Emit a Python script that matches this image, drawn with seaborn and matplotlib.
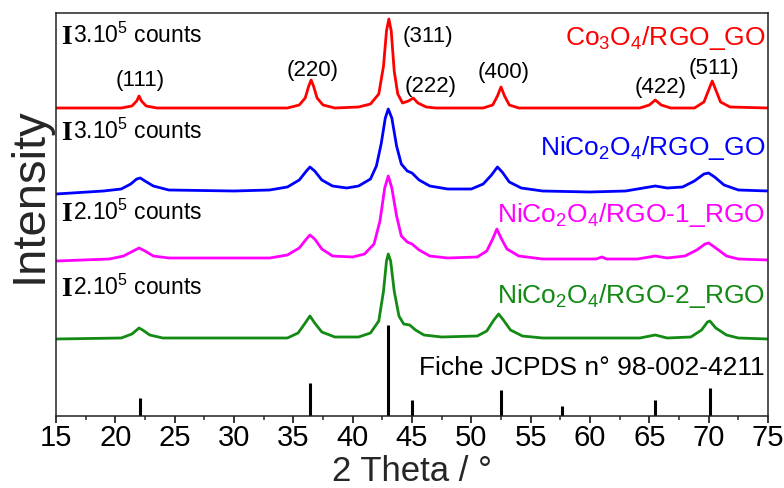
import matplotlib
matplotlib.use('Agg')
import matplotlib.pyplot as plt
from matplotlib.ticker import MultipleLocator
import seaborn as sns

# XRD patterns, 2 theta (deg) vs stacked intensity (a.u.)
co3o4_x = [15, 20.5, 21.4, 21.8, 22.0, 22.2, 22.6, 23.5, 34.5, 35.5, 36.0, 36.3, 36.5, 36.7, 37.0,
           37.5, 38.5, 40.5, 41.5, 42.2, 42.6, 42.85, 43.05, 43.25, 43.5, 43.8, 44.2, 44.7, 45.1,
           45.5, 46.2, 47, 51, 51.8, 52.2, 52.5, 52.8, 53.2, 54, 64.2, 65.0, 65.5, 66.0, 66.8, 68.8,
           69.6, 70.0, 70.3, 70.6, 71.0, 71.8, 75]
co3o4_y = [308, 308, 310, 315, 320, 315, 310, 308, 308, 311, 318, 330, 336, 330, 318,
           311, 308, 309, 312, 322, 350, 385, 397, 385, 345, 322, 313, 315, 318,
           313, 309, 308, 308, 311, 320, 329, 320, 311, 308, 308, 311, 316, 311, 308, 308,
           314, 326, 335, 326, 314, 309, 308]

nico_go_x = [15, 19, 20.5, 21.3, 21.8, 22.1, 22.5, 23.2, 24.5, 30, 33, 34.5, 35.5, 36.1, 36.4, 36.8,
             37.4, 38.3, 39.5, 40.5, 41.5, 42.0, 42.4, 42.75, 43.0, 43.3, 43.7, 44.1, 44.6, 45.0,
             45.6, 46.5, 48, 50, 51, 51.7, 52.2, 52.6, 53.2, 54.2, 56, 60, 63, 64.5, 65.5, 66.5,
             67.8, 68.8, 69.6, 70.0, 70.5, 71.3, 72.5, 75]
nico_go_y = [222, 225, 227, 232, 237, 238, 235, 230, 226, 225, 226, 229, 236, 245, 249, 245,
             236, 230, 228, 230, 237, 250, 272, 298, 307, 298, 270, 252, 245, 243,
             236, 230, 227, 227, 232, 241, 249, 244, 234, 228, 225, 224, 225, 228, 230, 228,
             229, 235, 242, 243, 239, 231, 226, 225]

nico_1_x = [15, 19.5, 20.7, 21.5, 22.0, 22.5, 23.2, 24.5, 33, 34.5, 35.5, 36.1, 36.4, 36.8, 37.4,
            38.3, 40, 41, 41.8, 42.3, 42.7, 43.0, 43.3, 43.7, 44.1, 44.6, 45.0, 45.6, 46.5, 48,
            50.5, 51.3, 51.8, 52.15, 52.5, 53.0, 54, 56, 60.5, 61.0, 61.4, 64, 65.5, 66.5, 68,
            69.0, 69.7, 70.0, 70.6, 71.5, 72.5, 75]
nico_1_y = [155, 157, 160, 165, 168, 165, 160, 158, 158, 161, 168, 177, 181, 177, 167,
            160, 159, 162, 172, 195, 228, 240, 228, 200, 180, 174, 172, 166, 160, 158,
            159, 165, 177, 187, 178, 167, 160, 157, 157, 159, 157, 157, 160, 158, 160,
            166, 172, 173, 168, 160, 157, 156]

nico_2_x = [15, 20.5, 21.4, 21.8, 22.0, 22.3, 22.9, 24, 34.5, 35.4, 36.0, 36.4, 36.8, 37.4, 38.5,
            40.5, 41.5, 42.2, 42.6, 42.85, 43.0, 43.2, 43.5, 43.9, 44.3, 44.8, 45.3, 46.0, 47.5,
            50.5, 51.3, 51.9, 52.3, 52.7, 53.3, 54.3, 56, 64.2, 65.5, 66.5, 68.5, 69.4, 69.9, 70.1,
            70.6, 71.5, 72.5, 75]
nico_2_y = [77, 78, 82, 86, 88, 86, 81, 78, 78, 83, 93, 100, 93, 84, 79,
            79, 83, 95, 125, 155, 162, 155, 125, 100, 92, 91, 86, 81, 79,
            80, 85, 96, 102, 96, 86, 80, 78, 78, 81, 78, 79, 86, 94, 95,
            88, 81, 78, 77]

# reference pattern JCPDS 98-002-4211
jcpds_pos = [22.1, 36.4, 43.0, 45.0, 52.5, 57.6, 65.5, 70.1]
jcpds_int = [18, 33, 91, 16, 26, 10, 16, 28]

hkl_labels = ['(111)', '(220)', '(311)', '(222)', '(400)', '(422)', '(511)']
sample_names = [r'Co$\mathregular{_3}$O$\mathregular{_4}$/RGO_GO',
                r'NiCo$\mathregular{_2}$O$\mathregular{_4}$/RGO_GO',
                r'NiCo$\mathregular{_2}$O$\mathregular{_4}$/RGO-1_RGO',
                r'NiCo$\mathregular{_2}$O$\mathregular{_4}$/RGO-2_RGO']
scale_labels = [r'3.10$\mathregular{^5}$ counts', r'3.10$\mathregular{^5}$ counts',
                r'2.10$\mathregular{^5}$ counts', r'2.10$\mathregular{^5}$ counts']
colors = ['#ff0000', '#0000ff', '#ff00ff', '#138a13']

sns.set_theme(style='ticks')
plt.rcParams['font.family'] = ['Liberation Sans', 'DejaVu Sans']
plt.rcParams['mathtext.fontset'] = 'custom'
plt.rcParams['mathtext.rm'] = 'Liberation Sans'

fig = plt.figure(figsize=(7.84, 4.88), dpi=100)
ax = fig.add_axes([56 / 784, 72 / 488, 712 / 784, 403 / 488])

curves = [(co3o4_x, co3o4_y), (nico_go_x, nico_go_y), (nico_1_x, nico_1_y), (nico_2_x, nico_2_y)]
for (xs, ys), c in zip(curves, colors):
    sns.lineplot(x=xs, y=ys, color=c, lw=2.0, ax=ax, estimator=None)

ax.vlines(jcpds_pos, 0, jcpds_int, color='black', lw=2.2)

ax.set_xlim(15, 75)
ax.set_ylim(0, 403)
ax.set_yticks([])
ax.xaxis.set_major_locator(MultipleLocator(5))
ax.xaxis.set_minor_locator(MultipleLocator(2.5))
ax.tick_params(axis='x', which='major', direction='out', length=5, width=1.1, pad=1,
               labelsize=21, colors='black')
ax.tick_params(axis='x', which='minor', direction='out', length=3, width=1.1)
for sp in ax.spines.values():
    sp.set_visible(True)
    sp.set_color('#222222')
    sp.set_linewidth(1.1)

fig.text(412 / 784, 0, '2 Theta / °', ha='center', va='bottom', fontsize=25)
fig.text(30 / 784, 1 - 195 / 488, 'Intensity', ha='center', va='center', rotation=90, fontsize=34)

# hkl indices
hkl_xy = [(22.08, 336), (36.66, 346), (46.35, 380), (46.6, 330), (52.75, 344), (65.98, 329), (70.45, 348)]
for lab, (hx, hy) in zip(hkl_labels, hkl_xy):
    ax.text(hx, hy, lab, ha='center', va='center', fontsize=16, color='black')

# sample names and scale bars
name_base = [371, 261, 194, 113]
scale_base = [373, 277, 196, 121]
for name, sc, c, nb, sb in zip(sample_names, scale_labels, colors, name_base, scale_base):
    ax.text(74.75, nb, name, ha='right', va='baseline', fontsize=19, color=c)
    ax.text(15.45, sb - 1, 'I', ha='left', va='baseline', fontsize=20, color='black',
            fontweight='bold', family=['Liberation Serif', 'DejaVu Serif'])
    ax.text(16.4, sb, sc, ha='left', va='baseline', fontsize=16.5, color='black')

ax.text(74.75, 41, 'Fiche JCPDS n° 98-002-4211', ha='right', va='baseline', fontsize=19,
        color='black')

fig.savefig('out.png', dpi=100)
